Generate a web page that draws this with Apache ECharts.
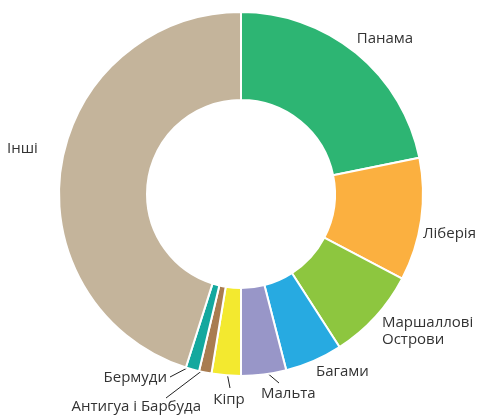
<!DOCTYPE html>
<html>
<head>
<meta charset="utf-8">
<script src="https://cdn.jsdelivr.net/npm/echarts@6/dist/echarts.min.js"></script>
<style>
  html, body { margin: 0; padding: 0; background: #ffffff; }
  #chart { width: 480px; height: 416px; }
</style>
</head>
<body>
<div id="chart"></div>
<script>
// Flags of the world fleet, share in percent
const flags = ['Панама', 'Ліберія', 'Маршаллові\nОстрови', 'Багами', 'Мальта', 'Кіпр', 'Антигуа і Барбуда', 'Бермуди', 'Інші'];
const shares = [21.8, 10.9, 8.2, 5.1, 4.0, 2.6, 1.1, 1.2, 45.1];
const colors = ['#2db573', '#fbb040', '#8dc63f', '#27aae1', '#9896c8', '#f3e92f', '#a97c50', '#13a89e', '#c4b49b'];

// Where each label sits; `end` is the tip of its leader line, if it has one
const labelSpots = [
  { x: 385, y: 39, align: 'center' },
  { x: 423, y: 234, align: 'left' },
  { x: 382, y: 331, align: 'left' },
  { x: 316, y: 372, align: 'left' },
  { x: 261, y: 394, align: 'left', end: [279, 383] },
  { x: 229, y: 400, align: 'center', end: [230, 388] },
  { x: 201, y: 407, align: 'right', end: [166, 398] },
  { x: 167, y: 378, align: 'right', end: [170, 377] },
  { x: 7, y: 149, align: 'left' }
];

const chart = echarts.init(document.getElementById('chart'), null, { renderer: 'canvas' });

const data = flags.map((name, i) => ({
  name: name,
  value: shares[i],
  itemStyle: { color: colors[i] },
  labelLine: { show: !!labelSpots[i].end }
}));

chart.setOption({
  animation: false,
  backgroundColor: '#ffffff',
  series: [{
    type: 'pie',
    center: [241, 194],
    radius: [94, 182],
    startAngle: 90,
    clockwise: true,
    avoidLabelOverlap: false,
    data: data,
    itemStyle: { borderColor: '#ffffff', borderWidth: 2 },
    label: {
      show: true,
      position: 'outside',
      formatter: '{b}',
      color: '#333333',
      fontFamily: 'Open Sans',
      fontSize: 15,
      lineHeight: 17
    },
    labelLine: {
      length: 10,
      length2: 10,
      lineStyle: { color: '#222222', width: 1 }
    },
    labelLayout: function (params) {
      const spot = labelSpots[params.dataIndex];
      const out = { x: spot.x, y: spot.y, align: spot.align, verticalAlign: 'middle' };
      if (spot.end && params.labelLinePoints) {
        const p0 = params.labelLinePoints[0];
        const p1 = params.labelLinePoints[1];
        const dx = p1[0] - p0[0], dy = p1[1] - p0[1];
        const len = Math.sqrt(dx * dx + dy * dy) || 1;
        const start = [p0[0] - 5 * dx / len, p0[1] - 5 * dy / len];
        out.labelLinePoints = [start, spot.end, spot.end];
      }
      return out;
    }
  }]
});
</script>
</body>
</html>
